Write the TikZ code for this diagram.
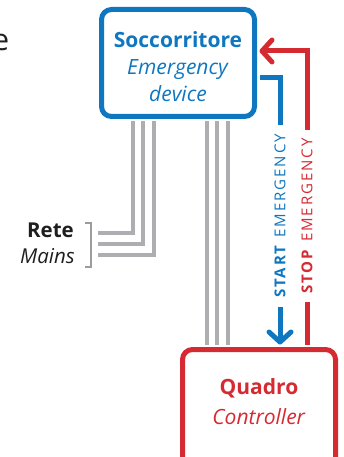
\documentclass[tikz,border=0pt]{standalone}
\usepackage{fontspec}
\setmainfont{Open Sans}
\newfontfamily\lsfont[LetterSpace=13]{Open Sans}
\usetikzlibrary{arrows.meta}
\definecolor{cblue}{HTML}{0F76C0}
\definecolor{cred}{HTML}{D62A32}
\definecolor{cgray}{HTML}{AEAEB2}
\definecolor{cbrk}{HTML}{9C9CA0}
\definecolor{cdark}{HTML}{1E1E1E}
\begin{document}
\begin{tikzpicture}[x=1pt,y=-1pt,
  boxstyle/.style={line width=5pt, rounded corners=10pt, minimum width=153pt, inner sep=0pt},
  boxblue/.style={boxstyle, draw=cblue, minimum height=107pt},
  boxred/.style={boxstyle, draw=cred, minimum height=130pt},
  wire/.style={draw=cgray, line width=4pt},
  sigblue/.style={draw=cblue, line width=5pt, -{Straight Barb[length=10pt,width=22pt,round]}},
  sigred/.style={draw=cred, line width=5pt, -{Straight Barb[length=10pt,width=22pt,round]}},
  vlabel/.style={fill=white, rotate=90, inner xsep=0pt, inner ysep=4pt, font=\lsfont\fontsize{15}{18}\selectfont},
  boxtext/.style={align=center, inner sep=0pt},
  sidetext/.style={anchor=base east, inner sep=0pt, text=cdark}
]
\useasboundingbox (0,0) rectangle (343,457);
\clip (0,0) rectangle (343,457);

% partial letter at the left edge
\node[anchor=base east, inner sep=0pt, text=cdark, font=\fontsize{30}{36}\selectfont] (cut) at (9.5,51) {e};

% boxes
\node[boxblue] (soc) at (178,63) {};
\node[boxred] (quadro) at (259,414.5) {};

\node[boxtext, text=cblue, font=\fontsize{21}{27}\selectfont, anchor=north] (soctxt) at (178,31)
  {\textbf{Soccorritore}\\ \textit{Emergency}\\ \textit{device}};
\node[boxtext, text=cred, font=\fontsize{21}{30}\selectfont, anchor=north] (quadrotxt) at (259,378)
  {\textbf{Quadro}\\ \textit{Controller}};

% wire coordinates
\coordinate (w1) at (133,233);
\coordinate (w2) at (143,244);
\coordinate (w3) at (154,255);
\coordinate (m1) at (98,233);
\coordinate (m2) at (98,244);
\coordinate (m3) at (98,255);
\coordinate (w4) at (207,0);
\coordinate (w5) at (217,0);
\coordinate (w6) at (228,0);

% mains wires
\draw[wire, shorten <=2.5pt] (soc.south -| w1) |- (m1);
\draw[wire, shorten <=2.5pt] (soc.south -| w2) |- (m2);
\draw[wire, shorten <=2.5pt] (soc.south -| w3) |- (m3);

% wires to controller
\draw[wire, shorten <=2.5pt, shorten >=2.5pt] (soc.south -| w4) -- (quadro.north -| w4);
\draw[wire, shorten <=2.5pt, shorten >=2.5pt] (soc.south -| w5) -- (quadro.north -| w5);
\draw[wire, shorten <=2.5pt, shorten >=2.5pt] (soc.south -| w6) -- (quadro.north -| w6);

% Rete / Mains
\node[sidetext, font=\fontsize{20.5}{24}\selectfont\bfseries] (rete) at (74,237) {Rete};
\node[sidetext, font=\fontsize{20.5}{24}\selectfont\itshape] (mains) at (75,263) {Mains};
\draw[cbrk, line width=1.2pt] (85,223) -| (91,267) -- (85,267);

% signal lines
\coordinate (bx) at (280,78);
\coordinate (rx) at (307,51);
\draw[sigblue, shorten <=2.5pt, shorten >=2.5pt] (soc.east |- bx) -| (quadro.north -| bx);
\draw[sigred, shorten <=2.5pt, shorten >=2.5pt] (quadro.north -| rx) |- (soc.east |- rx);

\node[vlabel, text=cblue, minimum width=182pt] (start) at (280,216)
  {\textbf{START} EMERGENCY};
\node[vlabel, text=cred, minimum width=172pt] (stop) at (307,216)
  {\textbf{STOP} EMERGENCY};
\end{tikzpicture}
\end{document}
